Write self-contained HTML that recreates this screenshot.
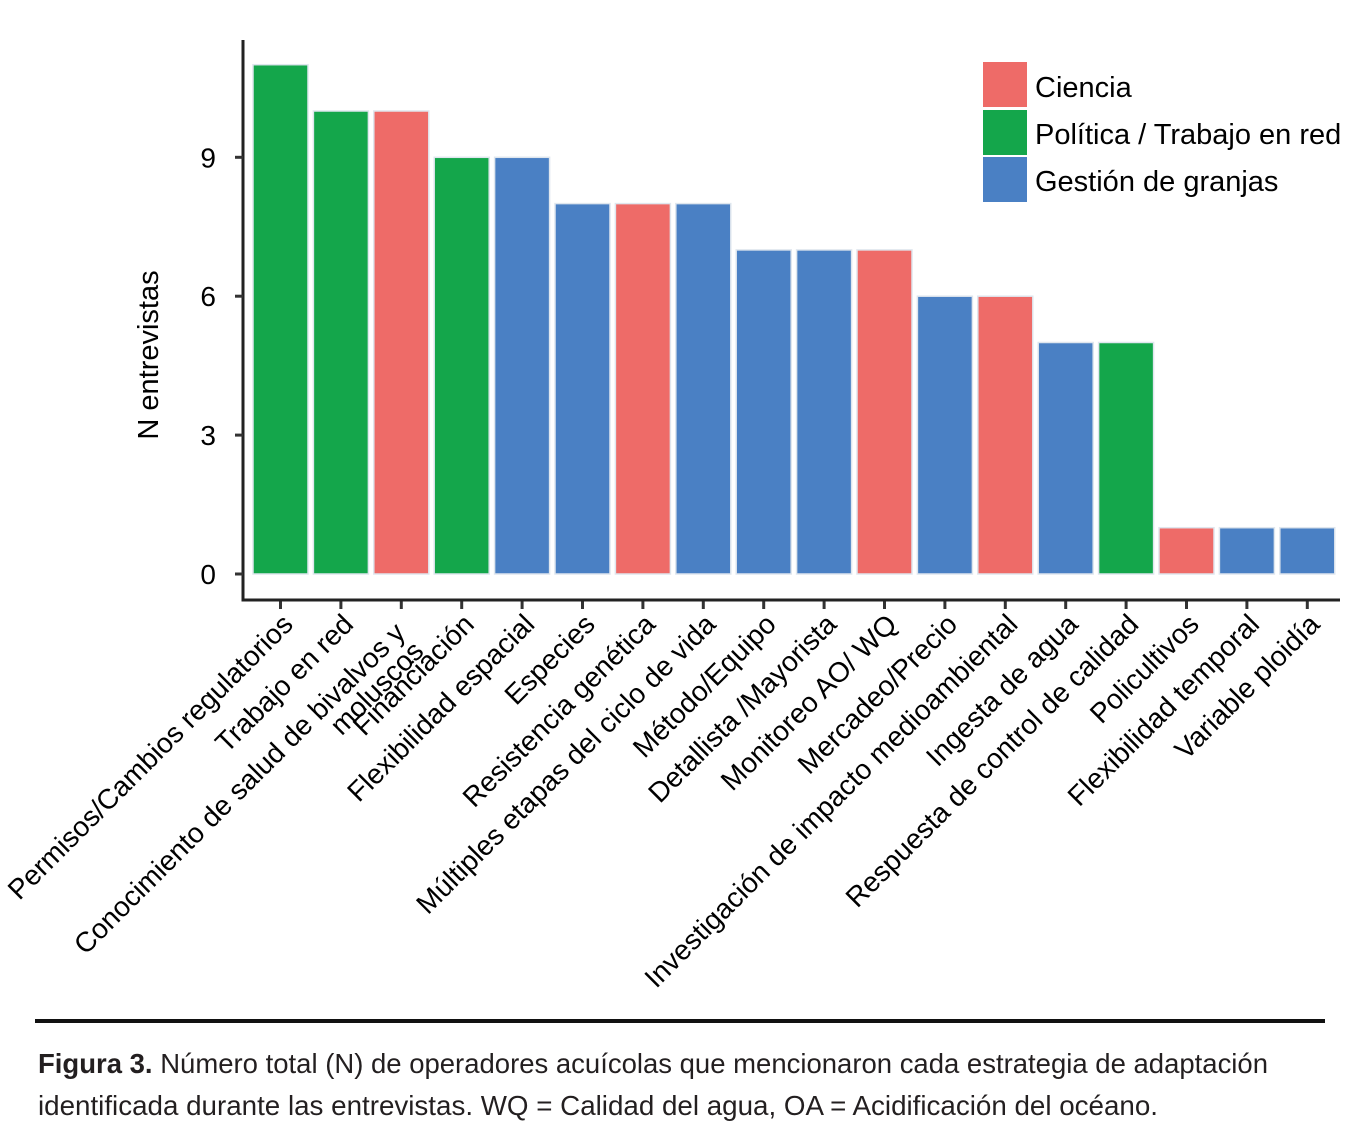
<!DOCTYPE html>
<html><head><meta charset="utf-8"><style>
body{margin:0;background:#fff;}
svg{display:block;font-family:"Liberation Sans",Arial,sans-serif;}
</style></head><body>
<svg id="chart" width="1358" height="1141" viewBox="0 0 1358 1141">
<g id="bars"></g>
<g id="axes"></g>
<text x="158" y="355" font-size="29" text-anchor="middle" transform="rotate(-90 158 355)">N entrevistas</text>
<g>
<rect x="983" y="62" width="44" height="45" fill="#ee6b68"/>
<text x="1035" y="97" font-size="29">Ciencia</text>
<rect x="983" y="110" width="44" height="45" fill="#14a64b"/>
<text x="1035" y="144" font-size="29">Política / Trabajo en red</text>
<rect x="983" y="157" width="44" height="45" fill="#4a80c4"/>
<text x="1035" y="191" font-size="29">Gestión de granjas</text>
</g>
<rect x="35" y="1019" width="1290" height="4" fill="#111"/>
<text x="38" y="1073" font-size="28" textLength="1230" lengthAdjust="spacingAndGlyphs" fill="#231f20"><tspan font-weight="bold">Figura 3.</tspan> Número total (N) de operadores acuícolas que mencionaron cada estrategia de adaptación</text>
<text x="38" y="1115" font-size="28" textLength="1120" lengthAdjust="spacingAndGlyphs" fill="#231f20">identificada durante las entrevistas. WQ = Calidad del agua, OA = Acidificación del océano.</text>
</svg>
<script>
const categories=["Permisos/Cambios regulatorios","Trabajo en red","Conocimiento de salud de bivalvos y|moluscos","Financiación","Flexibilidad espacial","Especies","Resistencia genética","Múltiples etapas del ciclo de vida","Método/Equipo","Detallista /Mayorista","Monitoreo AO/ WQ","Mercadeo/Precio","Investigación de impacto medioambiental","Ingesta de agua","Respuesta de control de calidad","Policultivos","Flexibilidad temporal","Variable ploidía"];
const values=[11,10,10,9,9,8,8,8,7,7,7,6,6,5,5,1,1,1];
const groups=["P","P","C","P","G","G","C","G","G","G","C","G","C","G","P","C","G","G"];
const yTicks=[0,3,6,9];
const colors={C:"#ee6b68",P:"#14a64b",G:"#4a80c4"};
const NS="http://www.w3.org/2000/svg";
const x0=253,step=60.4,bw=55,yZero=574,unit=46.3;
const xPos=i=>x0+i*step;
const yPos=v=>yZero-v*unit;
const bars=document.getElementById('bars'),axes=document.getElementById('axes');
function mk(tag,attrs,parent){const e=document.createElementNS(NS,tag);for(const k in attrs)e.setAttribute(k,attrs[k]);parent.appendChild(e);return e;}
values.forEach((v,i)=>{
 const r=mk('rect',{x:xPos(i),y:yPos(v),width:bw,height:yZero-yPos(v),fill:colors[groups[i]],stroke:"#dfe6ee","stroke-width":1.5},bars);
 
 
 const cx=xPos(i)+bw/2;
 const t=mk('line',{x1:cx,y1:600,x2:cx,y2:609,stroke:"#333","stroke-width":3},axes);
 
 
 const lines=categories[i].split('|');
 const ax=cx+14,ay=626;
 const lab=mk('text',{x:ax,y:ay,"font-size":28,"text-anchor":"end",transform:`rotate(-45 ${ax} ${ay})`},axes);
 
 
 if(lines.length===1){lab.textContent=lines[0];}
 else{
  lines.forEach((s,j)=>{const ts=mk('tspan',{x:ax-12,dy:j?26:0},lab);ts.textContent=s;});
 }
});
const ya=mk('path',{d:"M243 40 V600 H1340",fill:"none",stroke:"#222","stroke-width":3},axes);


yTicks.forEach(v=>{
 const y=yPos(v);
 const t=mk('line',{x1:235,y1:y,x2:243,y2:y,stroke:"#333","stroke-width":3},axes);
 
 
 const l=mk('text',{x:216,y:y+10,"font-size":28,"text-anchor":"end"},axes);
 l.textContent=v;
 
 
});
</script>
</body></html>
